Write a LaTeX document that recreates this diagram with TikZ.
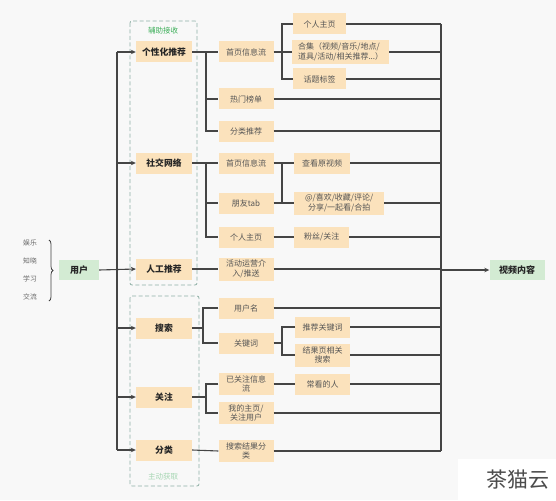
\documentclass[tikz,border=0pt]{standalone}
\usepackage{fontspec}
\setmainfont{Noto Sans CJK SC}
\usetikzlibrary{arrows.meta,decorations.pathreplacing,calc}
\definecolor{boxo}{HTML}{FBE2BC}
\definecolor{boxg}{HTML}{D3EBD3}
\definecolor{lnc}{HTML}{454545}
\definecolor{txt}{HTML}{555555}
\definecolor{dsh}{HTML}{8FB0A6}
\definecolor{lblg}{HTML}{3DAF5A}
\definecolor{lblg2}{HTML}{A5D6B2}
\definecolor{bgc}{HTML}{F8F8F8}
\begin{document}
\begin{tikzpicture}[x=1pt,y=-1pt,
 lvl1/.style={fill=boxo, minimum width=56pt, minimum height=21pt, inner sep=1pt, font=\fontsize{8.8}{10}\selectfont\bfseries, text=black!85},
 lvl2/.style={fill=boxo, minimum width=55pt, minimum height=21pt, inner sep=1pt, align=center, font=\fontsize{8}{9.6}\selectfont, text=txt},
 lvl3/.style={lvl2, anchor=west},
 rootb/.style={fill=boxg, minimum height=20pt, inner sep=1pt, font=\fontsize{9}{10}\selectfont\bfseries, text=black!85},
 leftw/.style={font=\fontsize{6.8}{8}\selectfont, text=black!60, inner sep=1pt},
 conn/.style={draw=lnc, line width=1.1pt},
 arr/.style={conn, -{Stealth[length=5pt,width=4.5pt]}},
 grp/.style={draw=dsh, line width=0.8pt, dash pattern=on 4pt off 2.5pt, rounded corners=2pt},
]
\useasboundingbox (0,0) rectangle (556,500);
\fill[bgc] (0,0) rectangle (556,500);
\fill[white] (458,459) rectangle (556,500);

% groups
\draw[grp] (130,21) rectangle (197,285);
\draw[grp] (130,296) rectangle (199,486);
\node[font=\fontsize{7.5}{8}\selectfont, text=lblg, inner sep=1pt] (g1) at (163,31) {辅助接收};
\node[font=\fontsize{7.5}{8}\selectfont, text=lblg2, inner sep=1pt] (g2) at (163,477) {主动获取};

% roots
\node[rootb, minimum width=40pt] (user) at (79,270) {用户};
\node[rootb, minimum width=55pt] (video) at (517,270) {视频内容};

\node[leftw] (w1) at (30,243) {娱乐};
\node[leftw] (w2) at (30,261) {知晓};
\node[leftw] (w3) at (30,279) {学习};
\node[leftw] (w4) at (30,297) {交流};
\draw[draw=black!75, line width=0.8pt, decorate, decoration={brace, amplitude=4pt}] (49,240) -- (49,301);

% level 1
\node[lvl1] (a1) at (164,52) {个性化推荐};
\node[lvl1] (a2) at (164,163) {社交网络};
\node[lvl1] (a3) at (164,269) {人工推荐};
\node[lvl1] (a4) at (164,328) {搜索};
\node[lvl1] (a5) at (164,397) {关注};
\node[lvl1] (a6) at (164,450) {分类};

% level 2
\node[lvl2] (b11) at (246,52) {首页信息流};
\node[lvl2] (b12) at (246,99) {热门榜单};
\node[lvl2] (b13) at (246,131) {分类推荐};
\node[lvl2] (b21) at (246,163) {首页信息流};
\node[lvl2] (b22) at (246,203) {朋友tab};
\node[lvl2] (b23) at (246,237) {个人主页};
\node[lvl2, minimum height=23pt] (b31) at (246,269) {活动运营介\\入/推送};
\node[lvl2] (b41) at (246,308) {用户名};
\node[lvl2] (b42) at (246,343) {关键词};
\node[lvl2, minimum height=22pt] (b51) at (246,384) {已关注信息\\流};
\node[lvl2, minimum height=22pt] (b52) at (246,413) {我的主页/\\关注用户};
\node[lvl2, minimum height=22pt] (b61) at (246,451) {搜索结果分\\类};

% level 3
\node[lvl3, minimum width=53pt] (c1) at (293,24) {个人主页};
\node[lvl3, minimum width=97pt, minimum height=24pt, align=left] (c2) at (292,52) {合集（视频/音乐/地点/\\道具/活动/相关推荐...）};
\node[lvl3, minimum width=53pt] (c3) at (293,79) {话题标签};
\node[lvl3, minimum width=56pt] (c4) at (294,163) {查看原视频};
\node[lvl3, minimum width=90pt, minimum height=23pt] (c5) at (294,203) {@/喜欢/收藏/评论/\\分享/一起看/合拍};
\node[lvl3] (c6) at (294,237) {粉丝/关注};
\node[lvl3] (c7) at (295,327) {推荐关键词};
\node[lvl3, minimum height=23pt] (c8) at (295,355) {结果页相关\\搜索};
\node[lvl3] (c9) at (295,384) {常看的人};

% left spine
\coordinate (lt) at (117,52);
\coordinate (lb) at (117,450);
\draw[conn] (lt) -- (lb);
\foreach \n in {a1,a2,a4,a5,a6} \draw[arr] (lt |- \n.west) -- (\n.west);
\draw[arr] (user.east) -- (a3.west);

% right spine
\coordinate (rt) at (441,24);
\coordinate (rb) at (441,451);
\draw[conn] (rt) -- (rb);
\foreach \n in {c1,c2,c3,b12,b13,c4,c5,c6,b31,b41,c7,c8,c9,b52,b61} \draw[conn] (\n.east) -- (rt |- \n.east);
\draw[arr] (rt |- video.west) -- (video.west);

% brackets level1 -> level2
\coordinate (k1) at (206,0);
\coordinate (k4) at (203,0);
\draw[conn] (a1.east) -- (b11.west);
\draw[conn] (k1 |- b11.west) -- (k1 |- b13.west) -- (b13.west);
\draw[conn] (k1 |- b12.west) -- (b12.west);
\draw[conn] (a2.east) -- (b21.west);
\draw[conn] (k1 |- b21.west) -- (k1 |- b23.west) -- (b23.west);
\draw[conn] (k1 |- b22.west) -- (b22.west);
\draw[conn] (a3.east) -- (b31.west);
\draw[conn] (a4.east) -- (k4 |- a4.east);
\draw[conn] (b41.west) -- (k4 |- b41.west) -- (k4 |- b42.west) -- (b42.west);
\draw[conn] (a5.east) -- (k1 |- a5.east);
\draw[conn] (b51.west) -- (k1 |- b51.west) -- (k1 |- b52.west) -- (b52.west);
\draw[conn] (a6.east) -- (b61.west);

% brackets level2 -> level3
\coordinate (k2) at (282,0);
\draw[conn] (b11.east) -- (c2.west);
\draw[conn] (c1.west) -- (k2 |- c1.west) -- (k2 |- c3.west) -- (c3.west);
\draw[conn] (b21.east) -- (c4.west);
\draw[conn] (b22.east) -- (c5.west);
\draw[conn] (k2 |- c4.west) -- (k2 |- c5.west);
\draw[conn] (b23.east) -- (c6.west);
\draw[conn] (b42.east) -- (k2 |- b42.east);
\draw[conn] (c7.west) -- (k2 |- c7.west) -- (k2 |- c8.west) -- (c8.west);
\draw[conn] (b51.east) -- (c9.west);

% watermark
\node[font=\fontsize{21}{22}\selectfont, text=black!70, inner sep=0pt] (wm) at (518,480) {茶猫云};
\end{tikzpicture}
\end{document}
